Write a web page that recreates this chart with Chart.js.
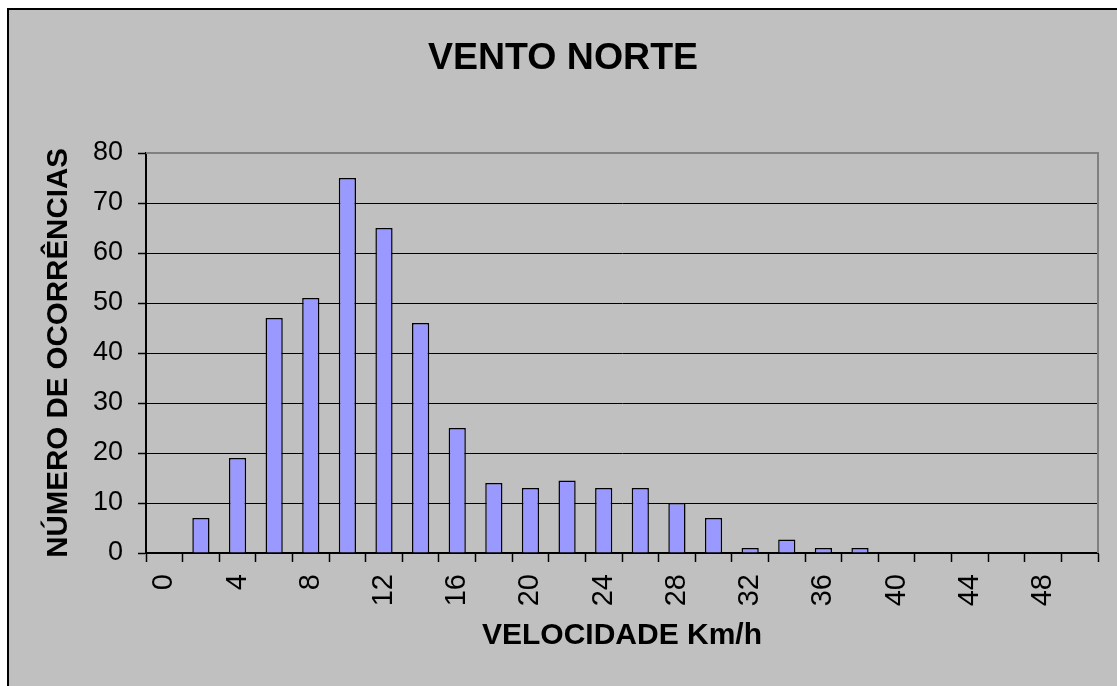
<!DOCTYPE html>
<html>
<head>
<meta charset="utf-8">
<title>Vento Norte</title>
<script src="https://cdn.jsdelivr.net/npm/chart.js@4/dist/chart.umd.min.js"></script>
<style>
  html, body { margin: 0; padding: 0; background: #fff; overflow: hidden; }
  /* grey chart panel, its right and bottom edges run past the window */
  .frame {
    position: absolute; left: 7px; top: 8px;
    width: 1200px; height: 800px;
    background: #c0c0c0; border: 2px solid #000;
  }
  #myChart { position: absolute; left: 0; top: 0; }
</style>
</head>
<body>
<div class="frame"></div>
<canvas id="myChart" width="1117" height="686"></canvas>

<script>
// speed classes (km/h), one bar per class
var speeds = ['0', '2', '4', '6', '8', '10', '12', '14', '16', '18', '20', '22', '24',
              '26', '28', '30', '32', '34', '36', '38', '40', '42', '44', '46', '48', '50'];

// number of occurrences
var counts = [0, 7, 19, 47, 51, 75, 65, 46, 25, 14, 13, 14.5, 13,
              13, 10, 7, 1, 2.7, 1, 1, 0, 0, 0, 0, 0, 0];

var yMin = 0;
var yMax = 80;
var yStep = 10;

Chart.defaults.font.family = '"Liberation Sans", Arial, sans-serif';
Chart.defaults.color = '#000';

// grey frame on the top and right of the plot area
var plotFrame = {
  id: 'plotFrame',
  afterDraw: function (chart) {
    var a = chart.chartArea;
    var c = chart.ctx;
    c.save();
    c.strokeStyle = '#808080';
    c.lineWidth = 2;
    c.beginPath();
    c.moveTo(a.left, a.top);
    c.lineTo(a.right, a.top);
    c.lineTo(a.right, a.bottom);
    c.stroke();
    c.restore();
  }
};

var ctx = document.getElementById('myChart').getContext('2d');
var myChart = new Chart(ctx, {
  type: 'bar',
  data: {
    labels: speeds,
    datasets: [{
      data: counts,
      backgroundColor: '#9999ff',
      borderColor: '#000',
      borderWidth: 1.5,
      barPercentage: 0.47,
      categoryPercentage: 1
    }]
  },
  plugins: [plotFrame],
  options: {
    responsive: false,
    animation: false,
    layout: {
      padding: { left: 9, top: 10, right: 0, bottom: 0 }
    },
    plugins: {
      legend: { display: false },
      tooltip: { enabled: false },
      title: {
        display: true,
        text: 'VENTO NORTE',
        font: { size: 37.5, weight: 'bold' },
        padding: { top: 26, bottom: 72 }
      }
    },
    scales: {
      x: {
        afterFit: function (scale) {
          scale.height = 133;
          scale.paddingLeft = 0;
          scale.paddingRight = 19;
        },
        grid: {
          offset: true,
          drawOnChartArea: false,
          tickLength: 9,
          tickWidth: 1.5,
          tickColor: '#000'
        },
        border: { color: '#000', width: 2 },
        ticks: {
          autoSkip: false,
          minRotation: 90,
          maxRotation: 90,
          padding: 12,
          font: { size: 29 },
          callback: function (value, index) {
            return index % 2 === 0 ? this.getLabelForValue(value) : '';
          }
        },
        title: {
          display: true,
          text: 'VELOCIDADE Km/h',
          font: { size: 30, weight: 'bold' },
          padding: { top: 0, bottom: 32 }
        }
      },
      y: {
        min: yMin,
        max: yMax,
        afterFit: function (scale) { scale.width = 137; },
        grid: {
          color: function (c) { return c.tick && c.tick.value === yMax ? '#808080' : '#000'; },
          lineWidth: 1,
          tickLength: 8,
          tickColor: '#000',
          tickWidth: 1.5
        },
        border: { color: '#000', width: 2 },
        ticks: {
          stepSize: yStep,
          padding: 15,
          font: { size: 27 }
        },
        title: {
          display: true,
          text: 'NÚMERO DE OCORRÊNCIAS',
          font: { size: 29.5, weight: 'bold' },
          padding: { top: 32, bottom: 0 }
        }
      }
    }
  }
});
</script>
</body>
</html>
